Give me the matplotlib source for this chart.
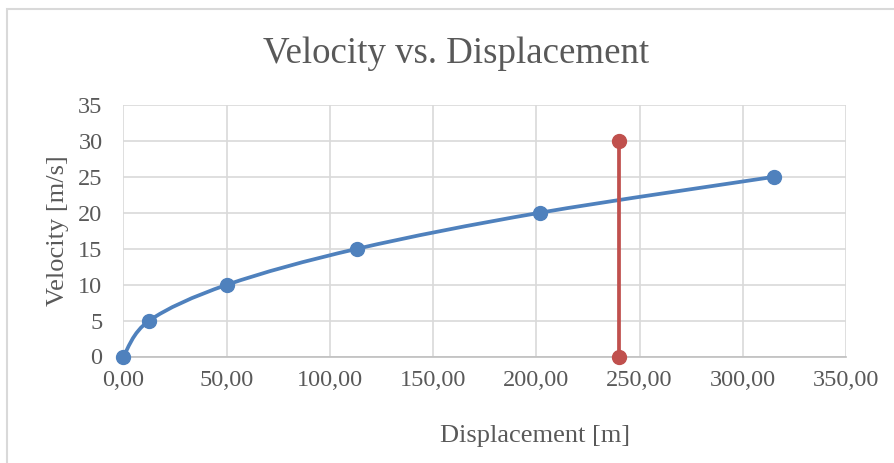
import matplotlib
matplotlib.use("Agg")
import matplotlib.pyplot as plt
from matplotlib.path import Path
from matplotlib.patches import PathPatch, Rectangle

# Data
displacement = [0.0, 12.6, 50.4, 113.4, 201.6, 315.0]
velocity = [0, 5, 10, 15, 20, 25]
marker_x = [240, 240]
marker_y = [0, 30]
x_ticks = [0, 50, 100, 150, 200, 250, 300, 350]
y_ticks = [0, 5, 10, 15, 20, 25, 30, 35]

BLUE = "#4f81bd"
RED = "#c0504d"
TXT = "#595959"
GRID = "#d9d9d9"

plt.rcParams['font.family'] = ['Liberation Serif', 'DejaVu Serif']

fig = plt.figure(figsize=(8.95, 4.63), dpi=100)
W, H = 895, 463
ax = fig.add_axes([123.3 / W, 1 - 356.5 / H, (846 - 123.3) / W, (356.5 - 105) / H])

# outer chart border (top/left visible)
fig.patches.append(Rectangle((7 / W, -0.05), 1.2, 1 - 9 / H + 0.05,
                             transform=fig.transFigure, fill=False,
                             edgecolor="#d9d9d9", linewidth=1.5))

# smoothed curve (Catmull-Rom style Bezier, like Excel)
pts = list(zip(displacement, velocity))
verts = [pts[0]]
codes = [Path.MOVETO]
n = len(pts)
for i in range(n - 1):
    p0 = pts[i - 1] if i > 0 else pts[i]
    p1 = pts[i]
    p2 = pts[i + 1]
    p3 = pts[i + 2] if i + 2 < n else pts[i + 1]
    c1 = (p1[0] + (p2[0] - p0[0]) / 6, p1[1] + (p2[1] - p0[1]) / 6)
    c2 = (p2[0] - (p3[0] - p1[0]) / 6, p2[1] - (p3[1] - p1[1]) / 6)
    verts += [c1, c2, p2]
    codes += [Path.CURVE4] * 3
ax.add_patch(PathPatch(Path(verts, codes), facecolor="none", edgecolor=BLUE,
                       linewidth=2.7, capstyle="round", zorder=3))
ax.plot(displacement, velocity, linestyle="none", marker="o", markersize=10,
        color=BLUE, zorder=4, clip_on=False)

ax.plot(marker_x, marker_y, color=RED, linewidth=2.7, marker="o",
        markersize=10, zorder=4, clip_on=False)

ax.set_xlim(0, 350)
ax.set_ylim(0, 35)
ax.set_xticks(x_ticks)
ax.set_yticks(y_ticks)
ax.set_xticklabels([f"{v:.2f}".replace(".", ",") for v in x_ticks])
ax.set_yticklabels([str(v) for v in y_ticks])
ax.tick_params(length=0, labelsize=17.5, colors=TXT)
ax.tick_params(axis="x", pad=10)
ax.tick_params(axis="y", pad=15)
ax.grid(True, color=GRID, linewidth=1.2)
ax.set_axisbelow(True)
for s in ["top", "right", "left"]:
    ax.spines[s].set_visible(False)
ax.spines["bottom"].set_color("#bfbfbf")
ax.spines["bottom"].set_linewidth(1.2)

fig.text(456 / W, 1 - 63 / H, "Velocity vs. Displacement", ha="center",
         va="baseline", fontsize=26.6, color=TXT)
fig.text(535 / W, 1 - 442 / H, "Displacement [m]", ha="center",
         va="baseline", fontsize=19, color=TXT)
fig.text(58.5 / W, 1 - 231 / H, "Velocity [m/s]", ha="center", va="center",
         rotation=90, fontsize=19, color=TXT)

fig.savefig("out.png", dpi=100)
